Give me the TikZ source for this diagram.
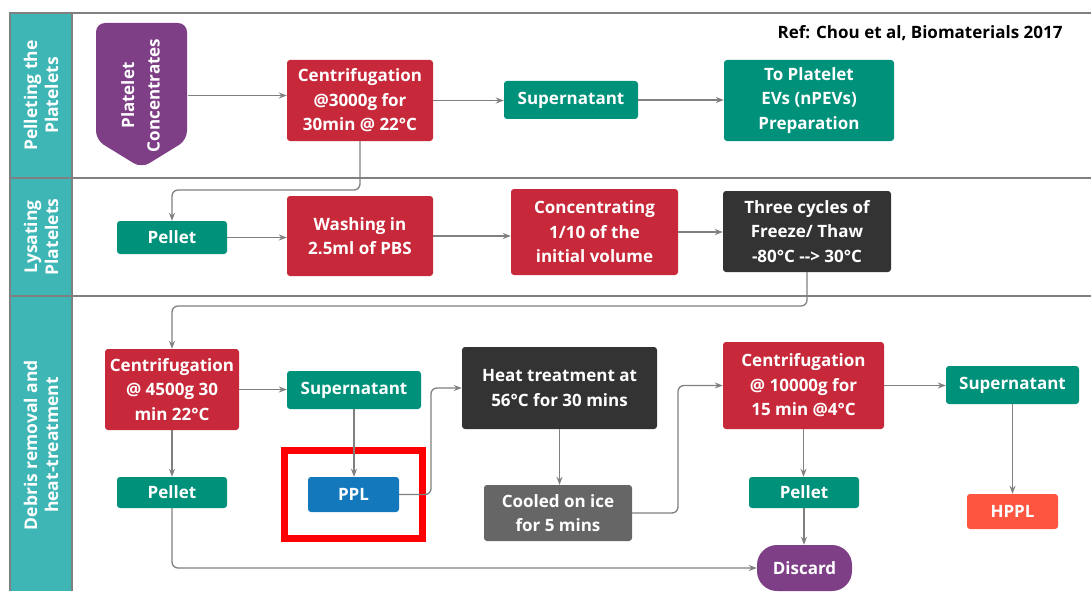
\documentclass[tikz,border=0pt]{standalone}
\usepackage{fontspec}
\setmainfont{Open Sans}
\usepackage{graphicx}
\usetikzlibrary{arrows.meta, calc}
\definecolor{laneteal}{RGB}{61,182,181}
\definecolor{stepred}{RGB}{200,41,58}
\definecolor{stepgreen}{RGB}{0,145,122}
\definecolor{stepdark}{RGB}{51,51,51}
\definecolor{stepgray}{RGB}{102,102,102}
\definecolor{pplblue}{RGB}{20,121,188}
\definecolor{hpplorange}{RGB}{253,85,63}
\definecolor{srcpurple}{RGB}{127,63,135}
\definecolor{linegray}{RGB}{128,128,128}

\begin{document}
\begin{tikzpicture}[x=1pt, y=-1pt,
  box/.style={rounded corners=3pt, text=white, align=center, inner sep=0pt, font=\fontsize{17}{24.5}\selectfont\bfseries},
  conn/.style={-{Stealth[length=8pt, width=6pt]}, draw=linegray, line width=1.3pt, rounded corners=6pt},
  lanetext/.style={rotate=90, text=white, align=center, font=\fontsize{17.5}{21}\selectfont\bfseries},
  frame/.style={draw=linegray, line width=1.8pt}]
  \useasboundingbox (0,0) rectangle (1091,591);

  % Swimlanes
  \fill[laneteal] (10,13) rectangle (72,591);
  \draw[frame] (1091,13) -- (10,13) -- (10,591);
  \draw[frame] (72,13) -- (72,591);
  \draw[frame] (10,178) -- (1091,178);
  \draw[frame] (10,296) -- (1091,296);
  \node[lanetext] (lane1) at (41,95.5) {Pelleting the\\Platelets};
  \node[lanetext] (lane2) at (41,237) {Lysating\\Platelets};
  \node[lanetext] (lane3) at (41,445) {Debris removal and\\heat-treatment};

  \node[anchor=east, font=\fontsize{17}{20}\selectfont\bfseries] (ref) at (1066,33) {Ref: Chou et al, Biomaterials 2017};

  % Lane 1
  \fill[srcpurple, rounded corners=9pt] (96,80) -- (96,23) -- (187,23) -- (187,140) -- (141.5,168) -- (96,140) -- cycle;
  \node[box, minimum width=91, minimum height=145] (pc) at (142,95.5) {\rotatebox{90}{\begin{tabular}{@{}c@{}}Platelet\\[1pt]Concentrates\end{tabular}}};
  \node[box, fill=stepred, minimum width=146, minimum height=81] (cent1) at (360,100.5) {Centrifugation\\@3000g for\\30min @ 22°C};
  \node[box, fill=stepgreen, minimum width=134, minimum height=38] (sup1) at (571,100) {Supernatant};
  \node[box, fill=stepgreen, minimum width=170, minimum height=81] (prep) at (809,100.5) {To Platelet\\EVs (nPEVs)\\Preparation};

  % Lane 2
  \node[box, fill=stepgreen, minimum width=110, minimum height=33] (pel2) at (172,237.5) {Pellet};
  \node[box, fill=stepred, minimum width=146, minimum height=80] (wash) at (360,236) {Washing in\\2.5ml of PBS};
  \node[box, fill=stepred, minimum width=167, minimum height=86] (conc) at (594.5,232) {Concentrating\\1/10 of the\\initial volume};
  \node[box, fill=stepdark, minimum width=168, minimum height=81] (three) at (807,231.5) {Three cycles of\\Freeze/ Thaw\\-80°C -{}-{}> 30°C};

  % Lane 3
  \node[box, fill=stepred, minimum width=134, minimum height=81] (cent2) at (172,389.5) {Centrifugation\\@ 4500g 30\\min 22°C};
  \node[box, fill=stepgreen, minimum width=134, minimum height=38] (sup3) at (354,390) {Supernatant};
  \node[box, fill=pplblue, minimum width=91, minimum height=35] (ppl) at (353.5,494.5) {PPL};
  \node[box, fill=stepgreen, minimum width=110, minimum height=31] (pel3) at (172,492.5) {Pellet};
  \node[box, fill=stepdark, minimum width=195, minimum height=82] (heat) at (559.5,388) {Heat treatment at\\56°C for 30 mins};
  \node[box, fill=stepgray, minimum width=148, minimum height=56] (cool) at (558,513) {Cooled on ice\\for 5 mins};
  \node[box, fill=stepred, minimum width=161, minimum height=87] (cent3) at (803.5,385.5) {Centrifugation\\@ 10000g for\\15 min @4°C};
  \node[box, fill=stepgreen, minimum width=133, minimum height=38] (sup4) at (1012.5,385) {Supernatant};
  \node[box, fill=stepgreen, minimum width=110, minimum height=31] (pel4) at (804,492.5) {Pellet};
  \node[box, fill=hpplorange, minimum width=91, minimum height=35] (hppl) at (1012.5,511.5) {HPPL};
  \node[box, fill=srcpurple, rounded corners=20pt, minimum width=95, minimum height=46] (discard) at (804.5,568) {Discard};

  % Highlight
  \draw[red, line width=7pt] (284,450) rectangle (422,538);

  % Connectors
  \coordinate (bend1) at (172,190);
  \coordinate (bend2) at (172,306);
  \coordinate (bend3) at (431,494.5);
  \coordinate (bend4) at (678,513);
  \draw[conn] (pc.east) -- (pc.east -| cent1.west);
  \draw[conn] (cent1.east) -- (cent1.east -| sup1.west);
  \draw[conn] (sup1.east) -- (sup1.east -| prep.west);
  \draw[conn] (cent1.south) |- (bend1) -- (pel2.north);
  \draw[conn] (pel2.east) -- (pel2.east -| wash.west);
  \draw[conn] (wash.east) -- (wash.east -| conc.west);
  \draw[conn] (conc.east) -- (conc.east -| three.west);
  \draw[conn] (three.south) |- (bend2) -- (cent2.north);
  \draw[conn] (cent2.east) -- (cent2.east -| sup3.west);
  \draw[conn] (cent2.south) -- (pel3.north);
  \draw[conn] (sup3.south) -- (sup3.south |- ppl.north);
  \draw[conn] (ppl.east) -- (bend3) |- (heat.west);
  \draw[conn] (heat.south) -- (heat.south |- cool.north);
  \draw[conn] (cool.east) -- (bend4) |- (cent3.west);
  \draw[conn] (cent3.east) -- (cent3.east -| sup4.west);
  \draw[conn] (cent3.south) -- (cent3.south |- pel4.north);
  \draw[conn] (pel4.south) -- (pel4.south |- discard.north);
  \draw[conn] (pel3.south) |- (discard.west);
  \draw[conn] (sup4.south) -- (sup4.south |- hppl.north);
\end{tikzpicture}
\end{document}
